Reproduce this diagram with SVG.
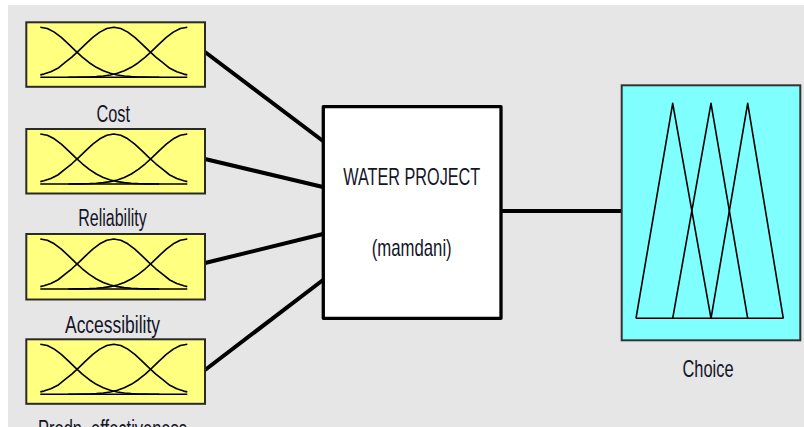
<svg xmlns="http://www.w3.org/2000/svg" xmlns:xlink="http://www.w3.org/1999/xlink" width="804" height="427" viewBox="0 0 804 427">
  <style>
    .bg { fill: #e6e6e6; }
    .inbox { fill: #ffff80; stroke: #2a2a2a; stroke-width: 2; }
    .mf { fill: none; stroke: #000; stroke-width: 1.6; stroke-linejoin: round; }
    .rule { fill: #ffffff; stroke: #000; stroke-width: 3.3; stroke-linejoin: round; }
    .outbox { fill: #80ffff; stroke: #333; stroke-width: 2; }
    .conn { stroke: #000; stroke-width: 4; stroke-linecap: butt; fill: none; }
    .lbl { font-family: "Liberation Sans", Arial, sans-serif; font-size: 23px; fill: #141428; text-anchor: middle; }
    .big { font-family: "Liberation Sans", Arial, sans-serif; font-size: 24px; fill: #141428; text-anchor: middle; }
  </style>
  <defs>
    <g id="gauss">
      <polyline class="mf" points="14,5 21,6.24 28,9.79 35,15.13 42,21.56 49,28.34 56,34.78 63,40.42 70,45.01 77,48.48 84,50.96 91,52.62 98,53.66 105,54.29 112,54.64 119,54.83 126,54.92 133,55"/>
      <polyline class="mf" points="14,52.6 17.5,51.8 24.5,49.5 31.5,46 38.5,40.42 45.5,34.78 52.5,28.34 59.5,21.56 66.5,15.13 73.5,9.79 80.5,6.24 87.5,5 94.5,6.24 101.5,9.79 108.5,15.13 115.5,21.56 122.5,28.34 129.5,34.78 136.5,40.42 143.5,46 150.5,49.5 157.5,51.8 161,52.6"/>
      <polyline class="mf" points="42,55 49,54.92 56,54.83 63,54.64 70,54.29 77,53.66 84,52.62 91,50.96 98,48.48 105,45.01 112,40.42 119,34.78 126,28.34 133,21.56 140,15.13 147,9.79 154,6.24 161,5"/>
      <line class="mf" x1="14" y1="55" x2="161" y2="55" stroke-width="2"/>
    </g>
  </defs>

  <rect x="0" y="0" width="804" height="427" fill="#ffffff"/>
  <rect class="bg" x="8" y="5" width="796" height="422"/>

  <g id="connectors">
    <line class="conn" x1="205" y1="52" x2="323" y2="141"/>
    <line class="conn" x1="205" y1="159" x2="323" y2="187"/>
    <line class="conn" x1="205" y1="263" x2="323" y2="234"/>
    <line class="conn" x1="205" y1="370" x2="323" y2="280"/>
    <line class="conn" x1="502" y1="211" x2="622" y2="211" stroke-width="3.6"/>
  </g>

  <g id="node-cost">
    <g transform="translate(26.3,22.3)">
      <rect class="inbox" x="0" y="0" width="178.7" height="64.5"/>
      <use xlink:href="#gauss"/>
    </g>
    <text class="lbl" x="113.3" y="122" textLength="33.5" lengthAdjust="spacingAndGlyphs">Cost</text>
  </g>

  <g id="node-reliability">
    <g transform="translate(26.3,129)">
      <rect class="inbox" x="0" y="0" width="178.7" height="64.5"/>
      <use xlink:href="#gauss"/>
    </g>
    <text class="lbl" x="112.5" y="226" textLength="68.4" lengthAdjust="spacingAndGlyphs">Reliability</text>
  </g>

  <g id="node-accessibility">
    <g transform="translate(26.3,234)">
      <rect class="inbox" x="0" y="0" width="178.7" height="65.5"/>
      <use xlink:href="#gauss"/>
    </g>
    <text class="lbl" x="112.5" y="333" textLength="95" lengthAdjust="spacingAndGlyphs">Accessibility</text>
  </g>

  <g id="node-prodn">
    <g transform="translate(26.3,339.3)">
      <rect class="inbox" x="0" y="0" width="178.7" height="64.5"/>
      <use xlink:href="#gauss"/>
    </g>
    <text class="lbl" x="112.5" y="437" textLength="149" lengthAdjust="spacingAndGlyphs">Prodn. effectiveness</text>
  </g>

  <g id="node-water-project">
    <rect class="rule" x="323.3" y="106.7" width="177.7" height="211.6"/>
    <text class="big" x="411.7" y="185" textLength="137" lengthAdjust="spacingAndGlyphs">WATER PROJECT</text>
    <text class="big" x="411.7" y="256" textLength="80" lengthAdjust="spacingAndGlyphs">(mamdani)</text>
  </g>

  <g id="node-choice">
    <rect class="outbox" x="621.7" y="85.3" width="178.6" height="255"/>
    <polyline class="mf" points="636,318.3 672.7,103.3 711,318.3"/>
    <polyline class="mf" points="672.7,318.3 711,103.3 747.7,318.3"/>
    <polyline class="mf" points="711,318.3 747.7,103.3 783.3,318.3"/>
    <line class="mf" x1="636" y1="318.3" x2="783.3" y2="318.3" stroke-width="2"/>
    <text class="big" x="708" y="377" textLength="51" lengthAdjust="spacingAndGlyphs">Choice</text>
  </g>
</svg>
